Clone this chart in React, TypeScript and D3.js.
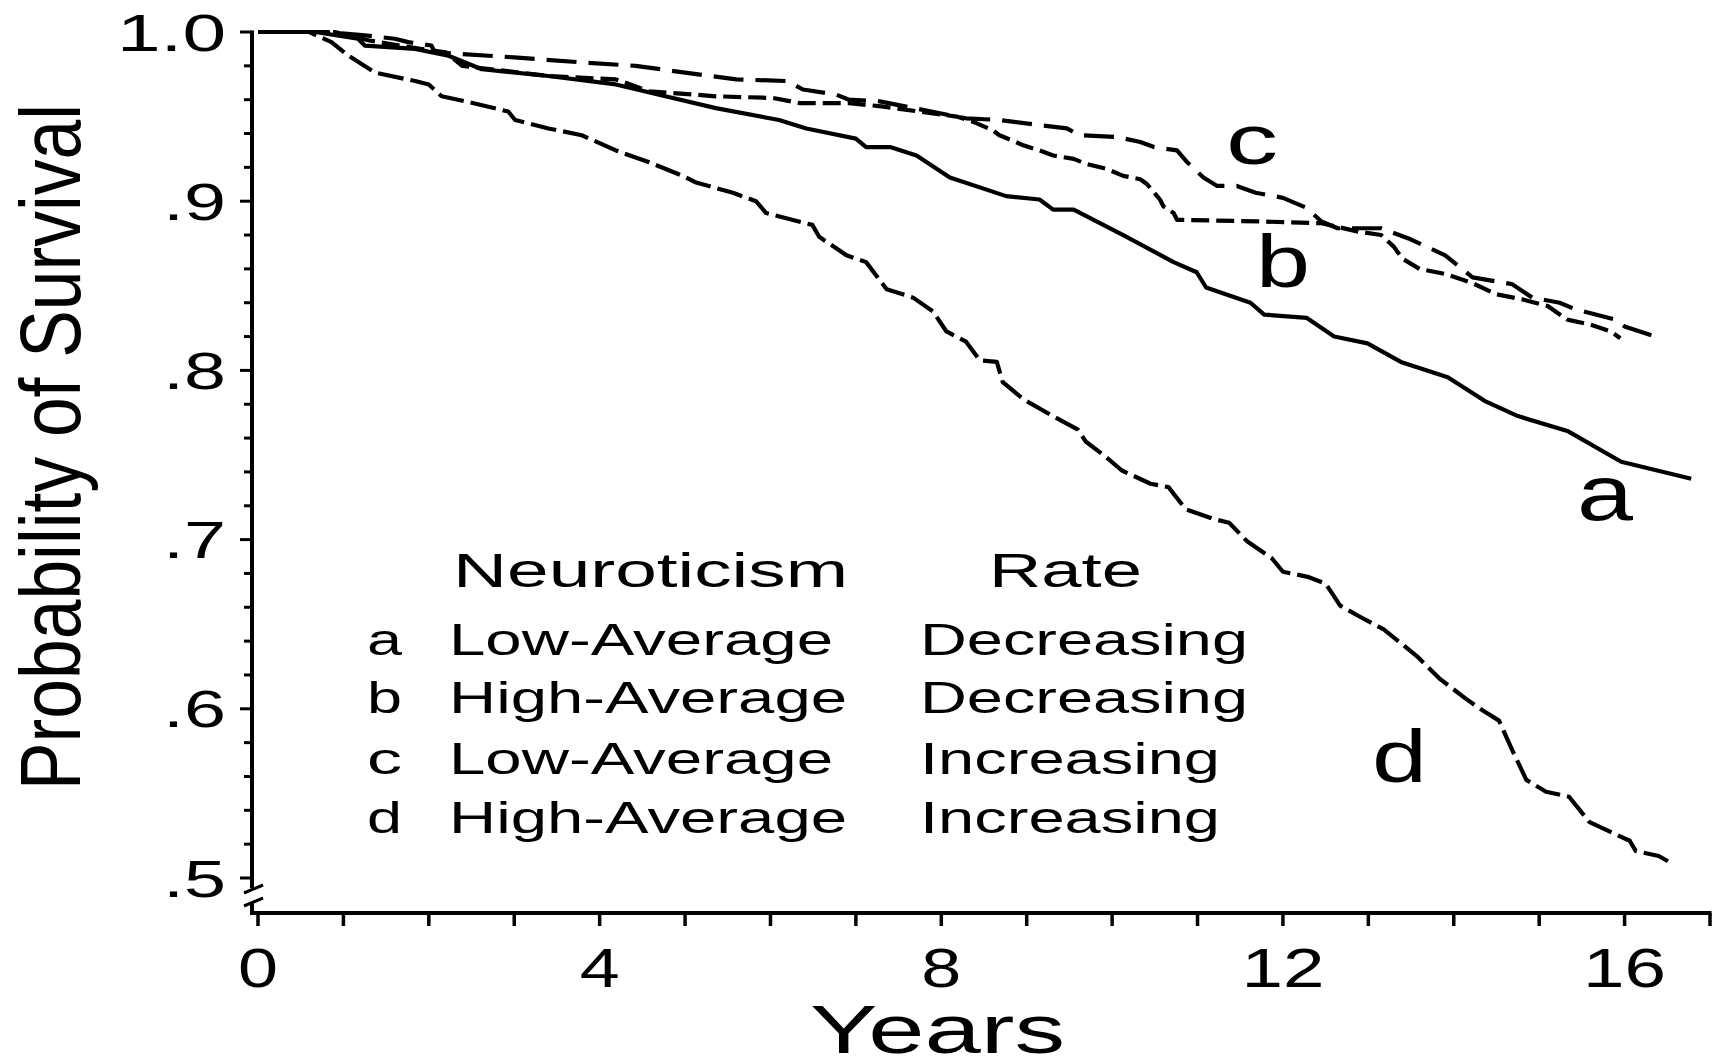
import React, { useEffect, useRef } from 'react';
import * as d3 from 'd3';

type Pt = [number, number];

// Survival curves: [years, probability of survival]
const curveA: Pt[] = [
  [0, 1], [0.67, 1.0], [1.17, 0.996], [1.25, 0.992], [1.84, 0.99], [2.23, 0.986], [2.62, 0.978],
  [3.4, 0.974], [4.19, 0.969], [4.77, 0.962], [5.36, 0.955], [5.99, 0.949], [6.1, 0.948],
  [6.42, 0.943], [7.0, 0.937], [7.12, 0.932], [7.4, 0.932], [7.71, 0.927], [8.1, 0.914],
  [8.76, 0.903], [9.15, 0.901], [9.31, 0.895], [9.55, 0.895], [10.13, 0.88], [10.72, 0.864],
  [10.99, 0.858], [11.1, 0.849], [11.62, 0.84], [11.78, 0.833], [12.28, 0.831], [12.6, 0.82],
  [12.99, 0.816], [13.38, 0.805], [13.93, 0.796], [14.36, 0.782], [14.75, 0.773], [15.34, 0.764],
  [15.96, 0.746], [16.78, 0.736],
];

const curveB: Pt[] = [
  [0, 1], [0.9, 1.0], [1.3, 0.995], [1.9, 0.99], [2.2, 0.988], [2.39, 0.98], [3.4, 0.974],
  [4.19, 0.972], [4.58, 0.965], [5.36, 0.962], [6.03, 0.961], [6.34, 0.958], [6.92, 0.958],
  [7.3, 0.956], [8.18, 0.95], [8.37, 0.947], [8.6, 0.942], [8.68, 0.939], [8.87, 0.935],
  [8.96, 0.933], [9.15, 0.93], [9.31, 0.927], [9.55, 0.925], [9.7, 0.922], [9.94, 0.919],
  [10.13, 0.915], [10.33, 0.913], [10.41, 0.91], [10.56, 0.901], [10.6, 0.897], [10.72, 0.893],
  [10.76, 0.889], [11.74, 0.888], [12.45, 0.887], [12.88, 0.882], [13.15, 0.88], [13.3, 0.873],
  [13.4, 0.866], [13.6, 0.86], [13.9, 0.857], [14.2, 0.852], [14.5, 0.845], [14.8, 0.842],
  [15.1, 0.838], [15.33, 0.83], [15.6, 0.827], [15.84, 0.823], [15.95, 0.819],
];

const curveC: Pt[] = [
  [0, 1], [0.8, 1.0], [1.25, 0.998], [1.6, 0.996], [1.76, 0.994], [2.03, 0.992], [2.07, 0.988],
  [3.0, 0.985], [3.8, 0.982], [4.42, 0.98], [5.0, 0.976], [5.6, 0.972], [6.2, 0.971],
  [6.38, 0.966], [6.77, 0.963], [6.92, 0.96], [7.28, 0.959], [8.18, 0.95], [8.29, 0.949],
  [8.68, 0.948], [9.15, 0.945], [9.47, 0.943], [9.62, 0.939], [10.05, 0.938], [10.33, 0.935],
  [10.49, 0.932], [10.76, 0.93], [10.88, 0.923], [11.07, 0.914], [11.23, 0.909], [11.46, 0.909],
  [11.68, 0.905], [12.0, 0.902], [12.28, 0.896], [12.45, 0.888], [12.64, 0.884], [13.15, 0.884],
  [13.47, 0.878], [13.9, 0.868], [14.22, 0.855], [14.68, 0.851], [14.92, 0.843], [15.24, 0.84],
  [15.43, 0.836], [15.89, 0.83], [16.0, 0.826], [16.36, 0.82],
];

const curveD: Pt[] = [
  [0, 1], [0.6, 1.0], [0.86, 0.994], [1.06, 0.986], [1.37, 0.976], [1.84, 0.971], [2.0, 0.969],
  [2.15, 0.962], [2.43, 0.959], [2.93, 0.953], [3.01, 0.948], [3.4, 0.943], [3.79, 0.939],
  [4.19, 0.93], [4.58, 0.923], [4.97, 0.915], [5.13, 0.911], [5.56, 0.905], [5.83, 0.9],
  [5.95, 0.893], [6.49, 0.886], [6.57, 0.879], [6.89, 0.868], [7.12, 0.864], [7.36, 0.848],
  [7.67, 0.843], [7.9, 0.835], [8.06, 0.823], [8.29, 0.817], [8.45, 0.806], [8.65, 0.805],
  [8.72, 0.793], [8.96, 0.783], [9.27, 0.774], [9.6, 0.765], [9.69, 0.758], [9.9, 0.75],
  [10.11, 0.741], [10.45, 0.733], [10.66, 0.731], [10.86, 0.718], [11.2, 0.712], [11.37, 0.71],
  [11.58, 0.699], [11.87, 0.689], [12.0, 0.681], [12.29, 0.678], [12.5, 0.674], [12.67, 0.661],
  [12.88, 0.655], [13.18, 0.647], [13.57, 0.631], [13.83, 0.618], [14.14, 0.606], [14.34, 0.599],
  [14.53, 0.593], [14.69, 0.575], [14.85, 0.558], [15.08, 0.551], [15.35, 0.548], [15.59, 0.533],
  [16.06, 0.522], [16.13, 0.516], [16.4, 0.513], [16.54, 0.509],
];

const yMajorTicks = [0.5, 0.6, 0.7, 0.8, 0.9, 1.0];
const yTickLabels = ['.5', '.6', '.7', '.8', '.9', '1.0'];
const xLabelledTicks = [0, 4, 8, 12, 16];
const xTickLabels = ['0', '4', '8', '12', '16'];

const legendKeys = ['a', 'b', 'c', 'd'];
const legendNeuroticism = ['Low-Average', 'High-Average', 'Low-Average', 'High-Average'];
const legendRate = ['Decreasing', 'Decreasing', 'Increasing', 'Increasing'];

const W = 1720;
const H = 1061;
const FONT = '"Liberation Sans", Arial, Helvetica, sans-serif';

export default function App() {
  const ref = useRef<SVGSVGElement | null>(null);

  useEffect(() => {
    document.body.style.margin = '0';
    if (!ref.current) return;
    const svg = d3.select(ref.current);
    svg.selectAll('*').remove();

    svg.append('rect').attr('width', W).attr('height', H).attr('fill', '#fff');

    const x = d3.scaleLinear().domain([0, 17]).range([258, 1710]);
    const y = d3.scaleLinear().domain([0.5, 1]).range([878, 32]);
    const axisX = 252;
    const baseY = 913;
    const ink = '#000';

    // stretched text: font size sets the height, textLength sets the width
    const text = (
      g: d3.Selection<any, unknown, null, undefined>,
      s: string,
      left: number,
      baseline: number,
      size: number,
      len: number
    ) =>
      g.append('text')
        .attr('x', left)
        .attr('y', baseline)
        .attr('font-family', FONT)
        .attr('font-size', size)
        .attr('textLength', len)
        .attr('lengthAdjust', 'spacingAndGlyphs')
        .attr('fill', ink)
        .text(s);

    // y axis, broken just below .5
    const axes = svg.append('g').attr('stroke', ink).attr('stroke-width', 4).attr('fill', 'none');
    axes.append('line').attr('x1', axisX).attr('x2', axisX).attr('y1', y(1) - 1.5).attr('y2', 888);
    axes.append('line').attr('x1', axisX).attr('x2', axisX).attr('y1', 903).attr('y2', baseY);
    axes.append('line').attr('x1', 244).attr('x2', 263).attr('y1', 893).attr('y2', 885).attr('stroke-width', 3);
    axes.append('line').attr('x1', 244).attr('x2', 263).attr('y1', 906).attr('y2', 898).attr('stroke-width', 3);

    // x axis
    axes.append('line').attr('x1', axisX - 2).attr('x2', x(17) + 1.5).attr('y1', baseY).attr('y2', baseY);

    // y ticks: majors every .1, minors every .02
    const yMinor = d3.range(0, 26).map(i => 0.5 + i * 0.02);
    yMinor.forEach(v => {
      const isMajor = yMajorTicks.some(m => Math.abs(m - v) < 1e-6);
      axes.append('line')
        .attr('x1', axisX - (isMajor ? 12 : 8))
        .attr('x2', axisX)
        .attr('y1', y(v))
        .attr('y2', y(v))
        .attr('stroke-width', 3);
    });

    // x ticks every year
    d3.range(0, 18).forEach(t => {
      axes.append('line')
        .attr('x1', x(t)).attr('x2', x(t))
        .attr('y1', baseY).attr('y2', baseY + 13)
        .attr('stroke-width', 3.5);
    });

    const labels = svg.append('g');

    yMajorTicks.forEach((v, i) => {
      const s = yTickLabels[i];
      const len = s.length === 3 ? 109 : 63;
      text(labels, s, 226 - len, y(v) + 18.5, 52, len);
    });

    xLabelledTicks.forEach((t, i) => {
      const s = xTickLabels[i];
      const len = s.length === 2 ? 83 : 40;
      text(labels, s, x(t) - len / 2, 987, 56, len);
    });

    // axis titles
    text(labels, 'Years', 810, 1053, 68, 255);
    labels.append('text')
      .attr('transform', 'translate(80,447) rotate(-90)')
      .attr('x', -343)
      .attr('y', 0)
      .attr('font-family', FONT)
      .attr('font-size', 86)
      .attr('textLength', 686)
      .attr('lengthAdjust', 'spacingAndGlyphs')
      .attr('fill', ink)
      .text('Probability of Survival');

    // curves
    const line = d3.line<Pt>()
      .x(d => x(d[0]))
      .y(d => y(d[1]));

    const series: { data: Pt[]; dash: string | null }[] = [
      { data: curveA, dash: null },
      { data: curveB, dash: '18,7' },
      { data: curveC, dash: '30,12' },
      { data: curveD, dash: '26,7' },
    ];

    const plot = svg.append('g');
    series.forEach(s => {
      plot.append('path')
        .datum(s.data)
        .attr('d', line)
        .attr('fill', 'none')
        .attr('stroke', ink)
        .attr('stroke-width', 4.2)
        .attr('stroke-linejoin', 'round')
        .attr('stroke-dasharray', s.dash ?? null);
    });

    // curve labels
    text(labels, 'a', 1577, 520, 77, 56);
    text(labels, 'b', 1256, 287, 74, 54);
    text(labels, 'c', 1226, 164, 71, 52);
    text(labels, 'd', 1372, 782, 75, 55);

    // legend table
    text(labels, 'Neuroticism', 453, 587, 48, 395);
    text(labels, 'Rate', 989, 587, 48, 153);
    const rowBase = [655, 713, 774, 833];
    legendKeys.forEach((k, i) => {
      text(labels, k, 367, rowBase[i], 44, 35);
      const n = legendNeuroticism[i];
      text(labels, n, 449, rowBase[i], 44, n.startsWith('High') ? 398 : 384);
      const r = legendRate[i];
      text(labels, r, 920, rowBase[i], 44, r.startsWith('Dec') ? 328 : 300);
    });
  }, []);

  return <svg ref={ref} width={W} height={H} style={{ display: 'block' }} />;
}
